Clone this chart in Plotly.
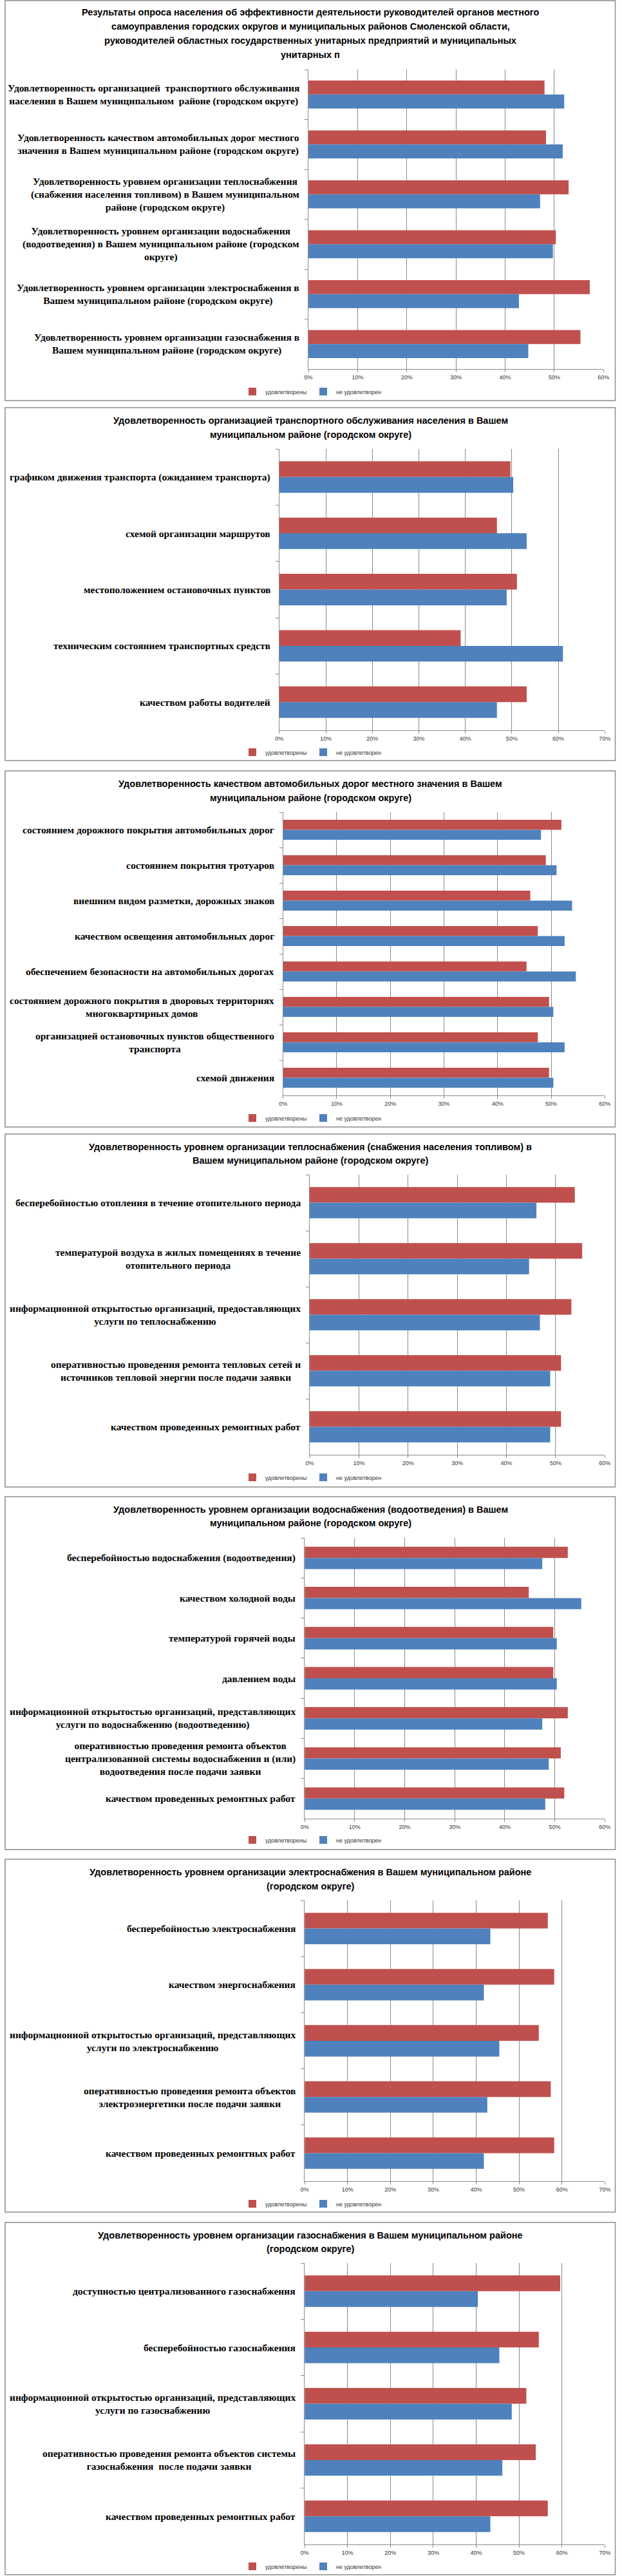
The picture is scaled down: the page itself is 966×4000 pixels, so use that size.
import plotly.graph_objects as go

# ---------------- DATA ----------------
SERIES_NAMES = ["удовлетворены", "не удовлетворены"]

P1_TITLE = ["Результаты опроса населения об эффективности деятельности руководителей органов местного",
            "самоуправления городских округов и муниципальных районов Смоленской области,",
            "руководителей областных государственных унитарных предприятий и муниципальных",
            "унитарных п"]
P1_CATS = ["Удовлетворенность организацией  транспортного обслуживания<br>населения в Вашем муниципальном  районе (городском округе)",
           "Удовлетворенность качеством автомобильных дорог местного<br>значения в Вашем муниципальном районе (городском округе)",
           "Удовлетворенность уровнем организации теплоснабжения<br>(снабжения населения топливом) в Вашем муниципальном<br>районе (городском округе)",
           "Удовлетворенность уровнем организации водоснабжения<br>(водоотведения) в Вашем муниципальном районе (городском<br>округе)",
           "Удовлетворенность уровнем организации электроснабжения в<br>Вашем муниципальном районе (городском округе)",
           "Удовлетворенность уровнем организации газоснабжения в<br>Вашем муниципальном районе (городском округе)"]
P1_SAT = [48.0, 48.3, 52.9, 50.3, 57.2, 55.3]
P1_UNSAT = [52.0, 51.7, 47.1, 49.7, 42.8, 44.7]

P2_TITLE = ["Удовлетворенность организацией транспортного обслуживания населения в Вашем",
            "муниципальном районе (городском округе)"]
P2_CATS = ["графиком движения транспорта (ожиданием транспорта)",
           "схемой организации маршрутов",
           "местоположением остановочных пунктов",
           "техническим состоянием транспортных средств",
           "качеством работы водителей"]
P2_SAT = [49.7, 46.8, 51.1, 39.0, 53.2]
P2_UNSAT = [50.3, 53.2, 48.9, 61.0, 46.8]

P3_TITLE = ["Удовлетворенность качеством автомобильных дорог местного значения в Вашем",
            "муниципальном районе (городском округе)"]
P3_CATS = ["состоянием дорожного покрытия автомобильных дорог",
           "состоянием покрытия тротуаров",
           "внешним видом разметки, дорожных знаков",
           "качеством освещения автомобильных дорог",
           "обеспечением безопасности на автомобильных дорогах",
           "состоянием дорожного покрытия в дворовых территориях<br>многоквартирных домов",
           "организацией остановочных пунктов общественного<br>транспорта",
           "схемой движения"]
P3_SAT = [51.9, 49.0, 46.1, 47.5, 45.4, 49.6, 47.5, 49.6]
P3_UNSAT = [48.1, 51.0, 53.9, 52.5, 54.6, 50.4, 52.5, 50.4]

P4_TITLE = ["Удовлетворенность уровнем организации теплоснабжения (снабжения населения топливом) в",
            "Вашем муниципальном районе (городском округе)"]
P4_CATS = ["бесперебойностью отопления в течение отопительного периода",
           "температурой воздуха в жилых помещениях в течение<br>отопительного периода",
           "информационной открытостью организаций, предоставляющих<br>услуги по теплоснабжению",
           "оперативностью проведения ремонта тепловых сетей и<br>источников тепловой энергии после подачи заявки",
           "качеством проведенных ремонтных работ"]
P4_SAT = [53.9, 55.4, 53.2, 51.1, 51.1]
P4_UNSAT = [46.1, 44.6, 46.8, 48.9, 48.9]

P5_TITLE = ["Удовлетворенность уровнем организации водоснабжения (водоотведения) в Вашем",
            "муниципальном районе (городском округе)"]
P5_CATS = ["бесперебойностью водоснабжения (водоотведения)",
           "качеством холодной воды",
           "температурой горячей воды",
           "давлением воды",
           "информационной открытостью организаций, представляющих<br>услуги по водоснабжению (водоотведению)",
           "оперативностью проведения ремонта объектов<br>централизованной системы водоснабжения и (или)<br>водоотведения после подачи заявки",
           "качеством проведенных ремонтных работ"]
P5_SAT = [52.6, 44.8, 49.7, 49.7, 52.6, 51.2, 51.9]
P5_UNSAT = [47.5, 55.3, 50.4, 50.4, 47.5, 48.8, 48.1]

P6_TITLE = ["Удовлетворенность уровнем организации электроснабжения в Вашем муниципальном районе",
            "(городском округе)"]
P6_CATS = ["бесперебойностью электроснабжения",
           "качеством энергоснабжения",
           "информационной открытостью организаций, представляющих<br>услуги по электроснабжению",
           "оперативностью проведения ремонта объектов<br>электроэнергетики после подачи заявки",
           "качеством проведенных ремонтных работ"]
P6_SAT = [56.7, 58.2, 54.6, 57.4, 58.2]
P6_UNSAT = [43.3, 41.8, 45.4, 42.6, 41.8]

P7_TITLE = ["Удовлетворенность уровнем организации газоснабжения в Вашем муниципальном районе",
            "(городском округе)"]
P7_CATS = ["доступностью централизованного газоснабжения",
           "бесперебойностью газоснабжения",
           "информационной открытостью организаций, представляющих<br>услуги по газоснабжению",
           "оперативностью проведения ремонта объектов системы<br>газоснабжения  после подачи заявки",
           "качеством проведенных ремонтных работ"]
P7_SAT = [59.6, 54.6, 51.7, 53.9, 56.7]
P7_UNSAT = [40.4, 45.4, 48.3, 46.1, 43.3]

X_MAX = [60, 70, 60, 60, 60, 70, 70]
TICK_VALUES = [0, 10, 20, 30, 40, 50, 60, 70]
TICK_LABELS = ["0%", "10%", "20%", "30%", "40%", "50%", "60%", "70%"]

# ---------------- LAYOUT (pixels) ----------------
W, H = 966, 4000
RED = "#C0504D"
BLUE = "#4F81BD"
GRID = "#8a8a8a"

# box top, box bottom, plot x0, x1, plot top, plot bottom, title line ys, legend y
GEOM = [
    (1, 622, 480, 946, 108, 573, [19, 41, 63, 85], 608),
    (633, 1181, 434, 948, 697, 1134, [653, 675], 1168),
    (1197, 1750, 440, 948, 1261, 1701, [1217, 1239], 1736),
    (1761, 2309, 482, 948, 1824, 2259, [1781, 1802], 2294),
    (2324, 2872, 474, 948, 2388, 2824, [2344, 2365], 2857),
    (2887, 3435, 474, 948, 2951, 3387, [2907, 2929], 3422),
    (3451, 3998, 474, 948, 3514, 3951, [3471, 3492], 3985),
]

PANELS = [
    (P1_TITLE, P1_CATS, P1_SAT, P1_UNSAT),
    (P2_TITLE, P2_CATS, P2_SAT, P2_UNSAT),
    (P3_TITLE, P3_CATS, P3_SAT, P3_UNSAT),
    (P4_TITLE, P4_CATS, P4_SAT, P4_UNSAT),
    (P5_TITLE, P5_CATS, P5_SAT, P5_UNSAT),
    (P6_TITLE, P6_CATS, P6_SAT, P6_UNSAT),
    (P7_TITLE, P7_CATS, P7_SAT, P7_UNSAT),
]


def py(px):
    return 1 - px / H


fig = go.Figure()
layout = dict(
    width=W, height=H,
    margin=dict(l=0, r=0, t=0, b=0),
    paper_bgcolor="white", plot_bgcolor="white",
    barmode="group", bargap=0.44, bargroupgap=0,
    showlegend=True,
)
annotations = []
shapes = []

for i, ((title, cats, sat, unsat), geom, xmax) in enumerate(zip(PANELS, GEOM, X_MAX), start=1):
    btop, bbot, x0, x1, ptop, pbot, tys, ly = geom
    sfx = "" if i == 1 else str(i)
    lg = "legend" if i == 1 else f"legend{i}"

    fig.add_trace(go.Bar(y=cats, x=sat, orientation="h", name=SERIES_NAMES[0],
                         marker=dict(color=RED, line=dict(width=0)),
                         xaxis=f"x{sfx}", yaxis=f"y{sfx}", legend=lg, hoverinfo="x+name"))
    fig.add_trace(go.Bar(y=cats, x=unsat, orientation="h", name=SERIES_NAMES[1],
                         marker=dict(color=BLUE, line=dict(width=0)),
                         xaxis=f"x{sfx}", yaxis=f"y{sfx}", legend=lg, hoverinfo="x+name"))

    tv = [v for v in TICK_VALUES if v <= xmax]
    tt = TICK_LABELS[:len(tv)]
    layout[f"xaxis{sfx}"] = dict(
        domain=[x0 / W, x1 / W], anchor=f"y{sfx}", range=[0, xmax],
        tickvals=tv, ticktext=tt, showgrid=True, gridcolor=GRID, gridwidth=1,
        showline=True, linecolor=GRID, linewidth=1, ticks="outside", ticklen=4,
        tickcolor=GRID, zeroline=False, fixedrange=True,
        tickfont=dict(family="Liberation Sans Narrow, Liberation Sans", size=9, color="#333"),
    )
    layout[f"yaxis{sfx}"] = dict(
        domain=[py(pbot), py(ptop)], anchor=f"x{sfx}", autorange="reversed",
        type="category", categoryorder="array", categoryarray=cats,
        showticklabels=False, ticks="outside", tickson="boundaries", ticklen=5,
        tickcolor=GRID, showline=True, linecolor=GRID, linewidth=1, showgrid=False,
        zeroline=False, fixedrange=True,
    )
    layout[lg] = dict(
        orientation="h", x=0.5, xanchor="center", y=py(ly), yanchor="middle",
        font=dict(family="Liberation Sans Narrow, Liberation Sans", size=9, color="#333"),
        itemwidth=30, entrywidth=65, bgcolor="rgba(0,0,0,0)", traceorder="normal",
        tracegroupgap=0,
    )

    for line, ty in zip(title, tys):
        annotations.append(dict(
            text=line, xref="paper", yref="paper", x=0.5, y=py(ty),
            xanchor="center", yanchor="middle", showarrow=False,
            font=dict(family="Liberation Sans", size=14.5, color="black", weight="bold"),
        ))
    for c in cats:
        annotations.append(dict(
            text=c, xref=f"x{sfx} domain", yref=f"y{sfx}", x=0, y=c,
            xanchor="right", yanchor="middle", xshift=-12, align="center",
            showarrow=False,
            font=dict(family="Liberation Serif", size=15.5, color="black", weight="bold"),
        ))
    shapes.append(dict(type="rect", xref="paper", yref="paper",
                       x0=1 / W, x1=(W - 1.5) / W, y0=py(bbot), y1=py(btop),
                       line=dict(color="#8c8c8c", width=1.5), fillcolor="rgba(0,0,0,0)",
                       layer="below"))

layout["annotations"] = annotations
layout["shapes"] = shapes
fig.update_layout(**layout)

fig.write_html("out.html", config={"displayModeBar": False},
               post_script="document.body.style.margin='0';")
